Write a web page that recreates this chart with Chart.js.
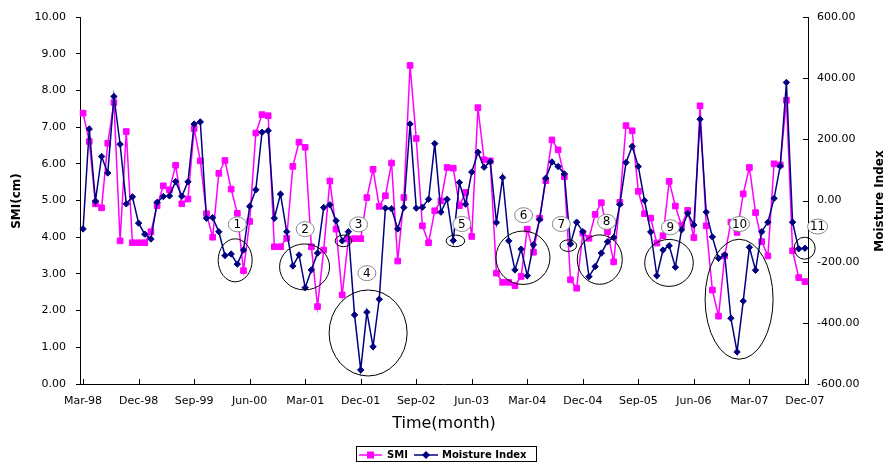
<!DOCTYPE html>
<html>
<head>
<meta charset="utf-8">
<script src="https://cdn.jsdelivr.net/npm/chart.js@4.4.0/dist/chart.umd.min.js"></script>
<style>
  html, body { margin: 0; padding: 0; background: #fff; }
  #wrap { width: 889px; height: 462px; }
</style>
</head>
<body>
<div id="wrap"><canvas id="smiChart" width="889" height="462"></canvas></div>
<script>
// Monthly categories, Mar-98 .. Dec-07
const MONTHS = ['Jan','Feb','Mar','Apr','May','Jun','Jul','Aug','Sep','Oct','Nov','Dec'];
const months = [];
for (let y = 1998, m = 2; months.length < 118; m++) {
  if (m === 12) { m = 0; y++; }
  months.push(MONTHS[m] + '-' + String(y).slice(2));
}

// SMI (cm), left axis
const smi = [
  7.38, 6.61, 4.91, 4.80, 6.56, 7.67, 3.90, 6.88, 3.85, 3.85,
  3.85, 4.15, 4.86, 5.40, 5.29, 5.96, 4.91, 5.04, 6.96, 6.08,
  4.64, 4.00, 5.74, 6.09, 5.31, 4.65, 3.09, 4.43, 6.84, 7.34,
  7.31, 3.74, 3.74, 3.97, 5.93, 6.59, 6.45, 3.74, 2.11, 3.65,
  5.53, 4.22, 2.43, 3.95, 3.96, 3.96, 5.08, 5.85, 4.84, 5.13,
  6.02, 3.35, 5.08, 8.68, 6.69, 4.31, 3.85, 4.72, 4.99, 5.90,
  5.88, 4.86, 5.22, 4.02, 7.53, 6.11, 6.08, 3.02, 2.77, 2.77,
  2.68, 2.93, 4.22, 3.59, 4.52, 5.54, 6.65, 6.38, 5.65, 2.84,
  2.61, 4.11, 3.97, 4.62, 4.94, 4.15, 3.33, 4.95, 7.04, 6.90,
  5.25, 4.64, 4.52, 3.84, 4.04, 5.52, 4.85, 4.32, 4.73, 3.99,
  7.58, 4.31, 2.56, 1.85, 3.49, 4.41, 4.13, 5.18, 5.90, 4.67,
  3.88, 3.49, 6.00, 5.97, 7.73, 3.63, 2.90, 2.79
];

// Moisture Index, right axis
const moisture = [
  -93, 234, -2, 144, 90, 340, 184, -11, 12, -74,
  -110, -126, -6, 13, 15, 62, 14, 61, 250, 257,
  -58, -56, -102, -180, -175, -208, -162, -19, 35, 223,
  228, -58, 21, -102, -214, -178, -285, -227, -172, -23,
  -14, -66, -132, -102, -374, -554, -365, -478, -323, -25,
  -27, -93, -23, 250, -25, -22, 4, 186, -38, 4,
  -131, 59, -12, 93, 158, 109, 127, -72, 75, -132,
  -227, -159, -246, -145, -62, 73, 126, 111, 87, -142,
  -71, -102, -249, -216, -172, -135, -121, -13, 124, 177,
  111, 0, -103, -246, -162, -148, -218, -96, -42, -80,
  266, -38, -119, -189, -178, -385, -495, -329, -153, -228,
  -102, -71, 7, 113, 386, -71, -158, -156
];

// Marked drought spells: centre (category index, SMI value), radii in px, label spot
const spells = [
  { n: '1',  idx: 24.65, val: 3.37, rx: 17,  ry: 21.5, lIdx: 25.0,  lVal: 4.35 },
  { n: '2',  idx: 35.9,  val: 3.19, rx: 25,  ry: 23,   lIdx: 36.0,  lVal: 4.22 },
  { n: '3',  idx: 42.2,  val: 3.90, rx: 8.3, ry: 5.8,  lIdx: 44.66, lVal: 4.35 },
  { n: '4',  idx: 46.2,  val: 1.39, rx: 39,  ry: 43,   lIdx: 46.0,  lVal: 3.02 },
  { n: '5',  idx: 60.35, val: 3.90, rx: 9.3, ry: 5.8,  lIdx: 61.4,  lVal: 4.36 },
  { n: '6',  idx: 71.3,  val: 3.44, rx: 27,  ry: 26.7, lIdx: 71.4,  lVal: 4.60 },
  { n: '7',  idx: 78.65, val: 3.77, rx: 8.3, ry: 5.8,  lIdx: 77.5,  lVal: 4.36 },
  { n: '8',  idx: 83.75, val: 3.39, rx: 22.5, ry: 24.7, lIdx: 84.86, lVal: 4.42 },
  { n: '9',  idx: 94.97, val: 3.30, rx: 24.3, ry: 23.5, lIdx: 95.2,  lVal: 4.27 },
  { n: '10', idx: 106.33, val: 2.31, rx: 34, ry: 60,   lIdx: 106.4, lVal: 4.36 },
  { n: '11', idx: 116.96, val: 3.70, rx: 10.5, ry: 11, lIdx: 119.05, lVal: 4.29 }
];

const FONT = 'DejaVu Sans';
Chart.defaults.font.family = FONT;
Chart.defaults.color = '#000';

function ellipse(ctx, x, y, rx, ry) {
  ctx.beginPath();
  ctx.ellipse(x, y, rx, ry, 0, 0, Math.PI * 2);
}

const overlay = {
  id: 'overlay',
  afterDatasetsDraw(chart) {
    const ctx = chart.ctx;
    const xs = chart.scales.x, ys = chart.scales.y;
    ctx.save();
    ctx.lineWidth = 1;
    spells.forEach(s => {
      ctx.strokeStyle = '#000';
      ellipse(ctx, xs.getPixelForValue(s.idx), ys.getPixelForValue(s.val), s.rx, s.ry);
      ctx.stroke();
    });
    spells.forEach(s => {
      const lx = xs.getPixelForValue(s.lIdx), ly = ys.getPixelForValue(s.lVal);
      ellipse(ctx, lx, ly, s.n.length > 1 ? 10 : 9, 7.5);
      ctx.fillStyle = '#fff';
      ctx.fill();
      ctx.strokeStyle = '#888';
      ctx.stroke();
      ctx.fillStyle = '#000';
      ctx.font = '12px ' + FONT;
      ctx.textAlign = 'center';
      ctx.textBaseline = 'middle';
      ctx.fillText(s.n, lx, ly + 0.5);
    });
    ctx.restore();
  },
  afterDraw(chart) {
    const ctx = chart.ctx;
    const xs = chart.scales.x, y1 = chart.scales.y1;
    const area = chart.chartArea;
    ctx.save();
    ctx.strokeStyle = '#000';
    ctx.lineWidth = 1;
    // inward tick marks on bottom and right axes
    ctx.beginPath();
    for (let i = 0; i < months.length; i += 9) {
      const px = Math.round(xs.getPixelForValue(i)) + 0.5;
      ctx.moveTo(px, area.bottom);
      ctx.lineTo(px, area.bottom - 5);
    }
    for (let v = -600; v <= 600; v += 200) {
      const py = Math.round(y1.getPixelForValue(v)) + 0.5;
      ctx.moveTo(area.right, py);
      ctx.lineTo(area.right - 5, py);
    }
    ctx.stroke();

    // axis titles
    ctx.fillStyle = '#000';
    ctx.textAlign = 'center';
    ctx.textBaseline = 'middle';
    ctx.font = 'bold 12px ' + FONT;
    ctx.save();
    ctx.translate(17, 201);
    ctx.rotate(-Math.PI / 2);
    ctx.fillText('SMI(cm)', 0, 0);
    ctx.restore();
    ctx.save();
    ctx.translate(880, 201);
    ctx.rotate(-Math.PI / 2);
    ctx.fillText('Moisture Index', 0, 0);
    ctx.restore();
    ctx.font = '16px ' + FONT;
    ctx.fillText('Time(month)', 444, 424);

    // legend
    ctx.strokeRect(356.5, 446.5, 180, 15);
    const ly = 455;
    ctx.lineWidth = 1.5;
    ctx.strokeStyle = '#FF00FF';
    ctx.beginPath(); ctx.moveTo(359, ly); ctx.lineTo(382, ly); ctx.stroke();
    ctx.fillStyle = '#FF00FF';
    ctx.fillRect(367, ly - 3.5, 7, 7);
    ctx.strokeStyle = '#000080';
    ctx.beginPath(); ctx.moveTo(414, ly); ctx.lineTo(438, ly); ctx.stroke();
    ctx.fillStyle = '#000080';
    ctx.beginPath();
    ctx.moveTo(426, ly - 4); ctx.lineTo(430, ly); ctx.lineTo(426, ly + 4); ctx.lineTo(422, ly);
    ctx.closePath(); ctx.fill();
    ctx.fillStyle = '#000';
    ctx.font = 'bold 10px ' + FONT;
    ctx.textAlign = 'left';
    ctx.fillText('SMI', 387, ly);
    ctx.fillText('Moisture Index', 442, ly);
    ctx.restore();
  }
};

new Chart(document.getElementById('smiChart'), {
  type: 'line',
  data: {
    labels: months,
    datasets: [
      {
        label: 'SMI',
        data: smi,
        yAxisID: 'y',
        order: 1,
        borderColor: '#FF00FF',
        borderWidth: 1.5,
        pointStyle: 'rect',
        pointRadius: 4,
        pointBackgroundColor: '#FF00FF',
        pointBorderColor: '#FF00FF',
        pointBorderWidth: 1,
        tension: 0
      },
      {
        label: 'Moisture Index',
        data: moisture,
        yAxisID: 'y1',
        order: 0,
        borderColor: '#000080',
        borderWidth: 1.5,
        pointStyle: 'rectRot',
        pointRadius: 3.2,
        pointBackgroundColor: '#000080',
        pointBorderColor: '#000080',
        pointBorderWidth: 1,
        tension: 0
      }
    ]
  },
  options: {
    responsive: false,
    animation: false,
    devicePixelRatio: 1,
    layout: { padding: { top: 17, left: 0, right: 0, bottom: 0 } },
    plugins: {
      legend: { display: false },
      tooltip: { enabled: false }
    },
    scales: {
      x: {
        offset: true,
        grid: { display: true, drawOnChartArea: false, drawTicks: false },
        border: { color: '#000', width: 1 },
        ticks: {
          autoSkip: false,
          maxRotation: 0,
          padding: 11,
          font: { size: 11 },
          callback: function(value, index) {
            return index % 9 === 0 ? this.getLabelForValue(value) : null;
          }
        },
        afterFit: s => { s.height = 78; }
      },
      y: {
        position: 'left',
        min: 0,
        max: 10,
        grid: { drawOnChartArea: false, drawTicks: true, tickLength: 4, color: '#000' },
        border: { color: '#000', width: 1 },
        ticks: {
          stepSize: 1,
          padding: 10,
          font: { size: 11 },
          callback: v => v.toFixed(2)
        },
        afterFit: s => { s.width = 80; }
      },
      y1: {
        position: 'right',
        min: -600,
        max: 600,
        grid: { drawOnChartArea: false, drawTicks: false },
        border: { color: '#000', width: 1 },
        ticks: {
          stepSize: 200,
          padding: 9,
          font: { size: 11 },
          callback: v => v.toFixed(2)
        },
        afterFit: s => { s.width = 81; }
      }
    }
  },
  plugins: [overlay]
});
</script>
</body>
</html>
